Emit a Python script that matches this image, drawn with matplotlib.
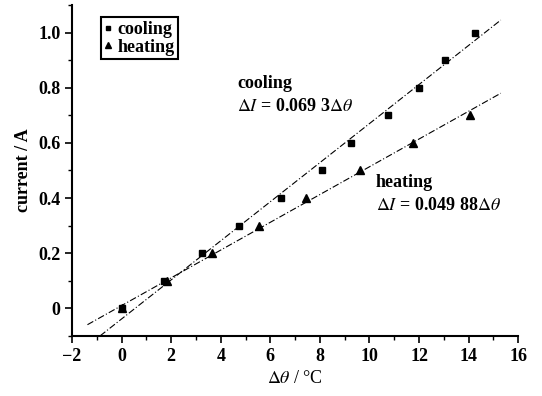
import matplotlib
matplotlib.use("Agg")
import matplotlib.pyplot as plt
import numpy as np
from matplotlib.ticker import MultipleLocator

plt.rcParams['font.family'] = ['Liberation Serif', 'DejaVu Serif']
plt.rcParams['mathtext.fontset'] = 'stix'

# data
cool_x = [0, 1.7, 3.25, 4.75, 6.45, 8.1, 9.25, 10.75, 12.0, 13.05, 14.25]
cool_y = [0.0, 0.1, 0.2, 0.3, 0.4, 0.5, 0.6, 0.7, 0.8, 0.9, 1.0]
heat_x = [0, 1.85, 3.65, 5.55, 7.45, 9.6, 11.75, 14.05]
heat_y = [0.0, 0.1, 0.2, 0.3, 0.4, 0.5, 0.6, 0.7]

# fitted lines as drawn (slope, intercept, x-range)
cool_fit = (0.0708, -0.038, -0.87, 15.3)
heat_fit = (0.0503, 0.0104, -1.38, 15.3)

xticks = [-2, 0, 2, 4, 6, 8, 10, 12, 14, 16]
yticks = [0, 0.2, 0.4, 0.6, 0.8, 1.0]
yticklabels = ['0', '0.2', '0.4', '0.6', '0.8', '1.0']

fig = plt.figure(figsize=(5.42, 3.96), dpi=100)
ax = fig.add_axes([0.133, 0.1515, 0.823, 0.836])

for (m, b, x0, x1) in (cool_fit, heat_fit):
    xs = np.array([x0, x1])
    ax.plot(xs, m * xs + b, color='black', lw=0.8, ls=(0, (6, 2, 1, 2)))

ax.plot(cool_x, cool_y, 's', color='black', ms=5, label='cooling', zorder=3)
ax.plot(heat_x, heat_y, '^', color='black', ms=5.5, label='heating', zorder=3)

ax.set_xlim(-2, 16)
ax.set_ylim(-0.1, 1.1)
ax.set_xticks(xticks)
ax.set_xticklabels(['\u22122' if t == -2 else str(t) for t in xticks], fontweight='bold')
ax.set_yticks(yticks)
ax.set_yticklabels(yticklabels, fontweight='bold')
ax.xaxis.set_minor_locator(MultipleLocator(1))
ax.yaxis.set_minor_locator(MultipleLocator(0.1))
ax.tick_params(axis='both', which='major', direction='out', length=5, width=1.2, labelsize=13)
ax.tick_params(axis='both', which='minor', direction='out', length=3, width=1.0)
for s in ('top', 'right'):
    ax.spines[s].set_visible(False)
for s in ('left', 'bottom'):
    ax.spines[s].set_linewidth(1.5)

ax.set_xlabel(r'$\Delta\theta$ / °C', fontsize=13, labelpad=4)
ax.set_ylabel('current / A', fontsize=13, fontweight='bold', labelpad=4)

leg = ax.legend(loc='upper left', bbox_to_anchor=(0.045, 0.99),
                prop={'size': 13, 'weight': 'bold'},
                handlelength=0.4, handletextpad=0.3, borderpad=0.2,
                labelspacing=0.05, fancybox=False, framealpha=1, markerscale=0.7)
leg.get_frame().set_edgecolor('black')
leg.get_frame().set_linewidth(1.5)

ax.text(4.65, 0.80, 'cooling', fontsize=13, fontweight='bold')
ax.text(4.65, 0.715, r'$\Delta \mathbf{\mathit{I}}$ = 0.069 3$\Delta\theta$', fontsize=13, fontweight='bold')
ax.text(10.25, 0.44, 'heating', fontsize=13, fontweight='bold')
ax.text(10.25, 0.355, r'$\Delta \mathbf{\mathit{I}}$ = 0.049 88$\Delta\theta$', fontsize=13, fontweight='bold')

fig.savefig('out.png', dpi=100)
